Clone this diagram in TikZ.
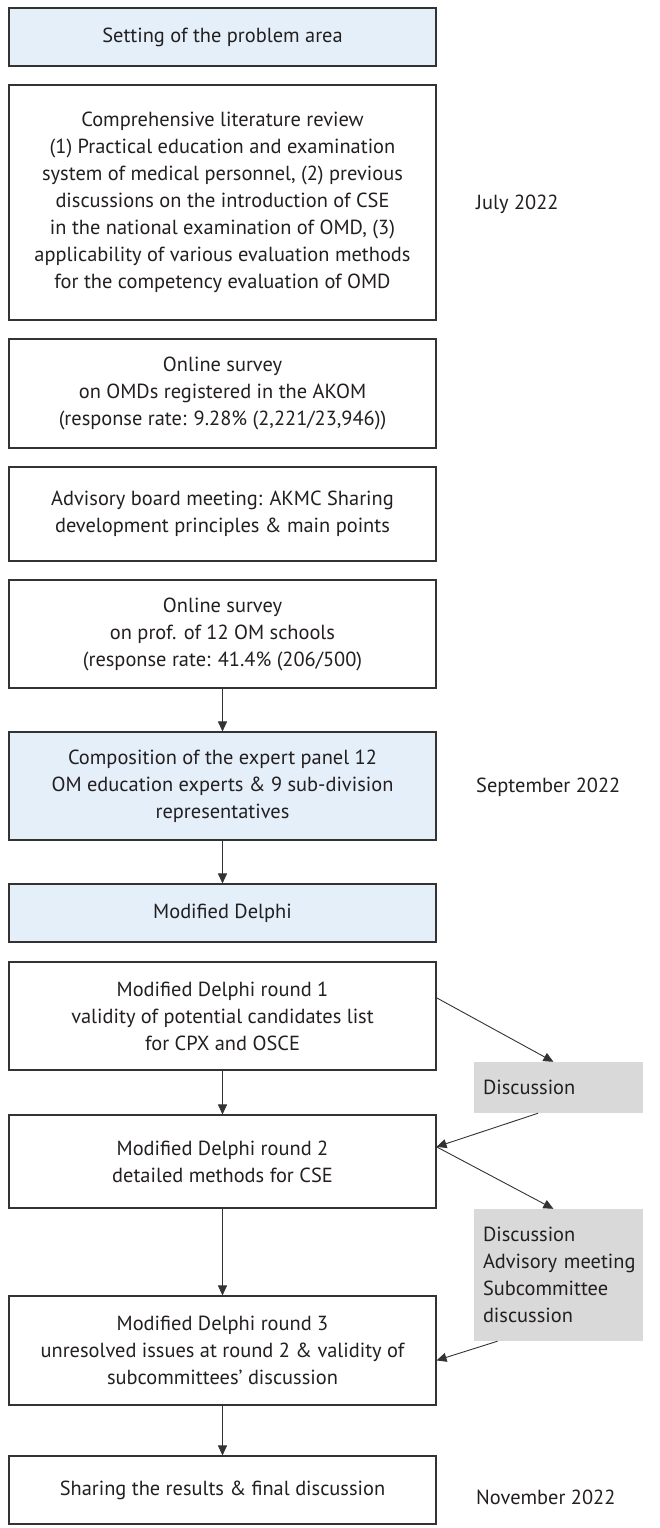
\documentclass[tikz,border=0pt]{standalone}
\usepackage{fontspec}
\setmainfont{PT Sans}
\usetikzlibrary{arrows.meta,calc}
\definecolor{boxblue}{HTML}{E4EFF9}
\definecolor{discgray}{HTML}{D9D9D9}
\definecolor{edge}{HTML}{333333}
\definecolor{txt}{HTML}{231F20}
\begin{document}
\begin{tikzpicture}[x=1pt,y=-1pt,
  font=\fontsize{20.4}{27}\selectfont, text=txt,
  stagebox/.style={draw=edge,line width=1.1pt,fill=white,minimum width=427pt,align=center,inner sep=0pt},
  bluebox/.style={stagebox,fill=boxblue},
  discbox/.style={fill=discgray,text width=151pt,inner xsep=9pt,inner ysep=0pt,align=left},
  datelabel/.style={anchor=west,inner sep=0pt},
  arr/.style={draw=edge,line width=0.9pt,-{Triangle[length=10pt,width=9pt]}}]
\useasboundingbox (0,0) rectangle (659,1528);
\fill[white] (0,0) rectangle (659,1528);

\node[bluebox,minimum height=58pt] (b1) at (222.5,37) {Setting of the problem area};
\node[stagebox,minimum height=235pt] (b2) at (222.5,202.5) {Comprehensive literature review\\(1) Practical education and examination\\system of medical personnel, (2) previous\\discussions on the introduction of CSE\\in the national examination of OMD, (3)\\applicability of various evaluation methods\\for the competency evaluation of OMD};
\node[stagebox,minimum height=109pt] (b3) at (222.5,393.5) {Online survey\\on OMDs registered in the AKOM\\(response rate: 9.28\% (2,221/23,946))};
\node[stagebox,minimum height=94pt] (b4) at (222.5,514) {Advisory board meeting: AKMC Sharing\\development principles \& main points};
\node[stagebox,minimum height=108pt] (b5) at (222.5,634) {Online survey\\on prof. of 12 OM schools\\(response rate: 41.4\% (206/500)};
\node[bluebox,minimum height=108pt] (b6) at (222.5,786) {Composition of the expert panel 12\\OM education experts \& 9 sub-division\\representatives};
\node[bluebox,minimum height=58pt] (b7) at (222.5,913) {Modified Delphi};
\node[stagebox,minimum height=108pt] (b8) at (222.5,1016) {Modified Delphi round 1\\validity of potential candidates list\\for CPX and OSCE};
\node[stagebox,minimum height=93pt] (b9) at (222.5,1161.5) {Modified Delphi round 2\\detailed methods for CSE};
\node[stagebox,minimum height=109pt] (b10) at (222.5,1350.5) {Modified Delphi round 3\\unresolved issues at round 2 \& validity of\\subcommittees' discussion};
\node[stagebox,minimum height=68pt] (b11) at (222.5,1490) {Sharing the results \& final discussion};

\node[discbox,minimum height=51pt] (d1) at (558.5,1087.5) {Discussion};
\node[discbox,minimum height=132pt] (d2) at (558.5,1275) {Discussion\\\mbox{Advisory meeting}\\Subcommittee\\discussion};

\node[datelabel] (t1) at (476,204) {July 2022};
\node[datelabel] (t2) at (476,787) {September 2022};
\node[datelabel] (t3) at (476,1497) {November 2022};

\draw[arr] (b5.south) -- (b6.north);
\draw[arr] (b6.south) -- (b7.north);
\draw[arr] (b8.south) -- (b9.north);
\draw[arr] (b9.south) -- (b10.north);
\draw[arr] (b10.south) -- (b11.north);

\coordinate (b8r) at ($(b8.north east)!0.333!(b8.south east)$);
\coordinate (b9r) at ($(b9.north east)!0.344!(b9.south east)$);
\coordinate (b10r) at ($(b10.north east)!0.59!(b10.south east)$);
\coordinate (d1in) at ($(d1.north west)!0.47!(d1.north east)$);
\coordinate (d1out) at ($(d1.south west)!0.38!(d1.south east)$);
\coordinate (d2in) at ($(d2.north west)!0.47!(d2.north east)$);
\coordinate (d2out) at ($(d2.south west)!0.14!(d2.south east)$);
\draw[arr] (b8r) -- (d1in);
\draw[arr] (d1out) -- (b9r);
\draw[arr] (b9r) -- (d2in);
\draw[arr] (d2out) -- (b10r);
\end{tikzpicture}
\end{document}
